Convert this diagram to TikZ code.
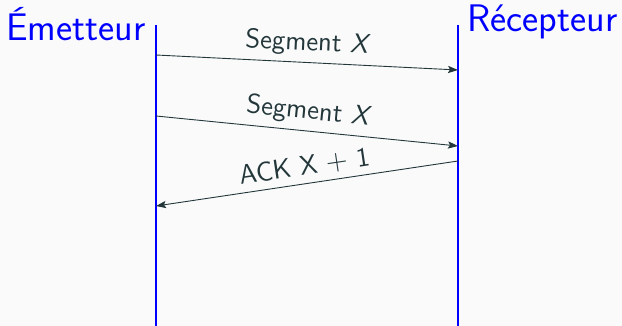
\documentclass[tikz,border=0pt]{standalone}
\usetikzlibrary{arrows.meta}
\definecolor{fg}{HTML}{23373B}
\definecolor{bg}{HTML}{FAFAFA}
\tikzset{
  lifeline/.style={draw=blue, line width=1pt},
  actor/.style={text=blue, font=\sffamily\fontsize{19.2}{21}\selectfont, inner sep=0pt},
  msg/.style={draw=fg, line width=0.45pt, -{Stealth[length=5pt,width=3.6pt,inset=1pt]}},
  msglabel/.style={text=fg, font=\sffamily\fontsize{13.6}{15}\selectfont, sloped, above, midway, inner sep=3pt}
}
\begin{document}
\begin{tikzpicture}[x=0.5pt,y=-0.5pt]
  \fill[bg] (0,0) rectangle (622,326);
  \useasboundingbox (0,0) rectangle (622,326);

  % lifelines
  \coordinate (etop) at (156,25);
  \coordinate (ebot) at (156,326);
  \coordinate (rtop) at (458,25);
  \coordinate (rbot) at (458,326);
  \draw[lifeline] (etop) -- (ebot);
  \draw[lifeline] (rtop) -- (rbot);

  % actor names
  \node[actor, anchor=base east] (emet) at (146,41) {Émetteur};
  \node[actor, anchor=base west] (recep) at (467,32) {Récepteur};

  % message end points
  \coordinate (s1a) at (156,55);
  \coordinate (s1b) at (458,70);
  \coordinate (s2a) at (156,116);
  \coordinate (s2b) at (458,146);
  \coordinate (acka) at (458,161);
  \coordinate (ackb) at (156,206);

  % messages
  \draw[msg] (s1a) -- node[msglabel] (l1) {Segment \textsl{X}} (s1b);
  \draw[msg] (s2a) -- node[msglabel] (l2) {Segment \textsl{X}} (s2b);
  \draw[msg] (acka) -- node[msglabel] (l3) {ACK X $+$ 1} (ackb);
\end{tikzpicture}
\end{document}
